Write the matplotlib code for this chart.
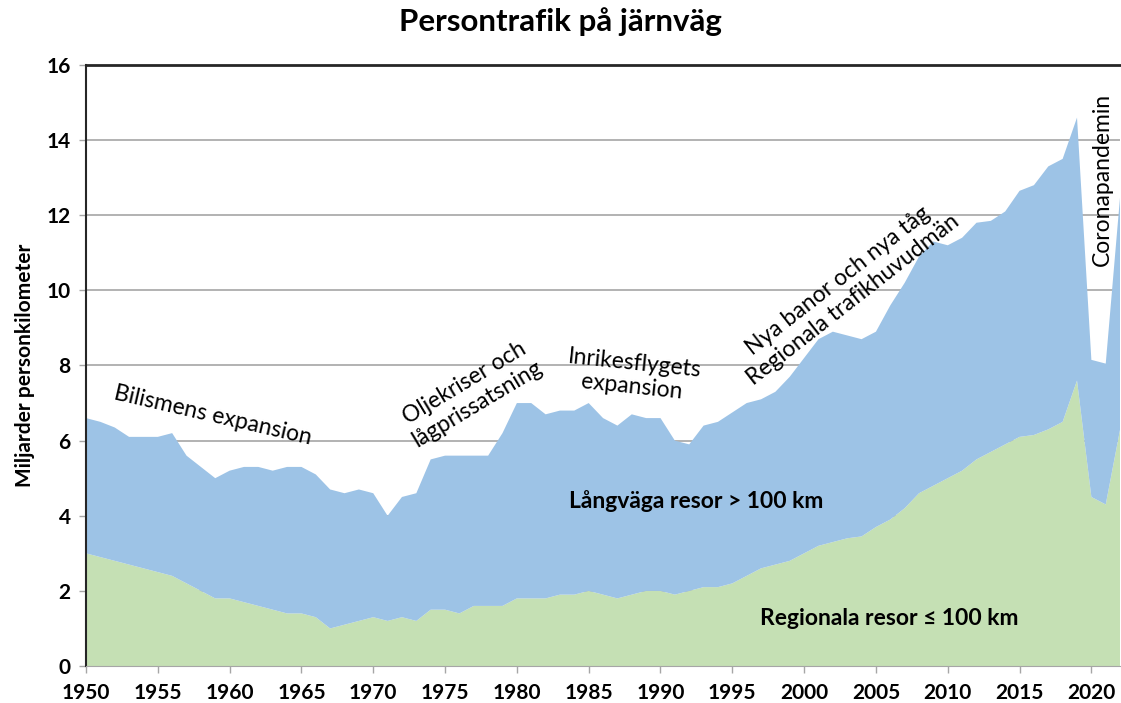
import numpy as np
import matplotlib
matplotlib.use("Agg")
import matplotlib.pyplot as plt

plt.rcParams['font.family'] = ['Lato', 'DejaVu Sans']

# Data (miljarder personkilometer)
years = list(range(1950, 2023))
regionala = [3.0, 2.9, 2.8, 2.7, 2.6, 2.5, 2.4, 2.2, 2.0, 1.8,
             1.8, 1.7, 1.6, 1.5, 1.4, 1.4, 1.3, 1.0, 1.1, 1.2,
             1.3, 1.2, 1.3, 1.2, 1.5, 1.5, 1.4, 1.6, 1.6, 1.6,
             1.8, 1.8, 1.8, 1.9, 1.9, 2.0, 1.9, 1.8, 1.9, 2.0,
             2.0, 1.9, 2.0, 2.1, 2.1, 2.2, 2.4, 2.6, 2.7, 2.8,
             3.0, 3.2, 3.3, 3.4, 3.45, 3.7, 3.9, 4.2, 4.6, 4.8,
             5.0, 5.2, 5.5, 5.7, 5.9, 6.1, 6.15, 6.3, 6.5, 7.6,
             4.5, 4.3, 6.3]
langvaga = [3.6, 3.6, 3.55, 3.4, 3.5, 3.6, 3.8, 3.4, 3.3, 3.2,
            3.4, 3.6, 3.7, 3.7, 3.9, 3.9, 3.8, 3.7, 3.5, 3.5,
            3.3, 2.8, 3.2, 3.4, 4.0, 4.1, 4.2, 4.0, 4.0, 4.6,
            5.2, 5.2, 4.9, 4.9, 4.9, 5.0, 4.7, 4.6, 4.8, 4.6,
            4.6, 4.1, 3.9, 4.3, 4.4, 4.55, 4.6, 4.5, 4.6, 4.9,
            5.2, 5.5, 5.6, 5.4, 5.25, 5.2, 5.7, 6.0, 6.3, 6.5,
            6.2, 6.2, 6.3, 6.15, 6.2, 6.55, 6.65, 7.0, 7.0, 7.0,
            3.65, 3.75, 6.2]

fig = plt.figure(figsize=(11.21, 7.03), dpi=100)
ax = fig.add_axes([0.0767, 0.0526, 0.9225, 0.855])

ax.stackplot(years, regionala, langvaga, colors=['#C5E0B4', '#9DC3E6'],
             linewidth=0, zorder=2)

ax.set_xlim(1950, 2022)
ax.set_ylim(0, 16)
ax.set_xticks(range(1950, 2021, 5))
ax.set_yticks(range(0, 17, 2))
ax.grid(axis='y', color='#A6A6A6', linewidth=1.2, zorder=1)
ax.set_axisbelow(True)

for lab in ax.get_xticklabels() + ax.get_yticklabels():
    lab.set_fontweight('bold')
ax.tick_params(axis='both', labelsize=15, color='#A6A6A6', length=5, width=1)
ax.tick_params(axis='x', pad=7)
ax.tick_params(axis='y', pad=6)

ax.spines['right'].set_visible(False)
ax.spines['bottom'].set_color('#A6A6A6')
ax.spines['left'].set_color('#262626')
ax.spines['left'].set_linewidth(1.5)
ax.spines['top'].set_color('#262626')
ax.spines['top'].set_linewidth(2)
ax.spines['top'].set_zorder(5)

ax.set_ylabel('Miljarder personkilometer', fontsize=15, fontweight='bold', labelpad=8)
fig.suptitle('Persontrafik på järnväg', fontsize=22.5, fontweight='bold', y=0.99)

# Annotations
ax.text(1958.8, 6.68, 'Bilismens expansion', fontsize=16.5, rotation=-13,
        ha='center', va='center', zorder=4)
ax.text(1976.8, 7.25, 'Oljekriser och\nlågprissatsning', fontsize=16.5, rotation=31,
        ha='center', va='center', multialignment='center', linespacing=1.2, zorder=4)
ax.text(1988.1, 7.75, 'Inrikesflygets\nexpansion', fontsize=16.5, rotation=-6,
        ha='center', va='center', multialignment='center', linespacing=1.15, zorder=4)
ax.text(2002.9, 10.0, 'Nya banor och nya tåg\nRegionala trafikhuvudmän', fontsize=16.5,
        rotation=38, ha='center', va='center', multialignment='center',
        linespacing=1.2, zorder=4)
ax.text(2020.8, 12.94, 'Coronapandemin', fontsize=16.5, rotation=90,
        ha='center', va='center', zorder=4)
ax.text(1992.5, 4.4, 'Långväga resor > 100 km', fontsize=16.5, fontweight='bold',
        ha='center', va='center', zorder=4)
ax.text(2005.95, 1.27, 'Regionala resor ≤ 100 km', fontsize=16.5, fontweight='bold',
        ha='center', va='center', zorder=4)

fig.savefig('out.png', dpi=100)
